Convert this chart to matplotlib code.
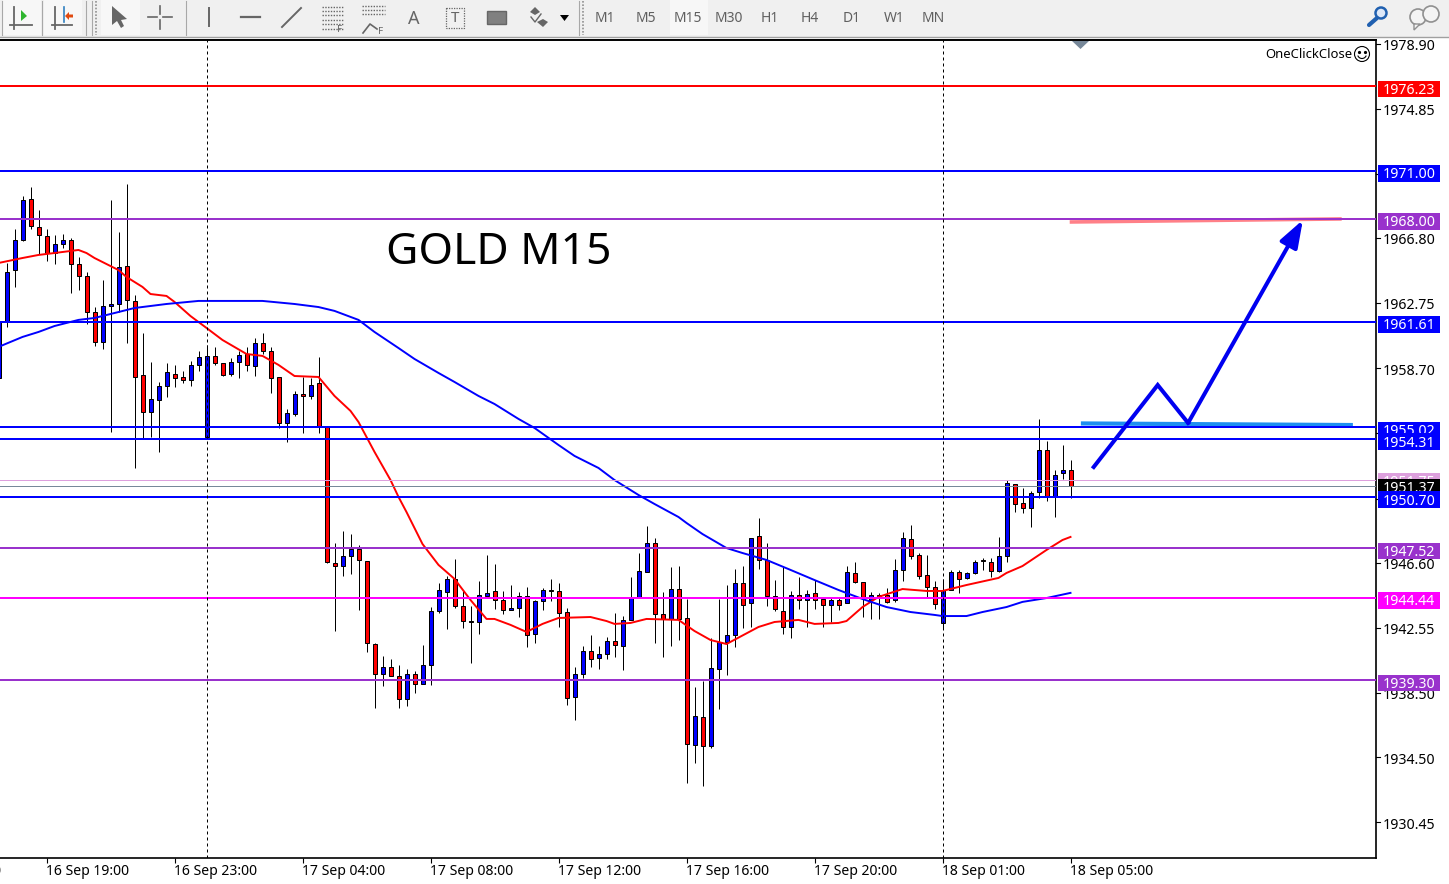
import matplotlib
matplotlib.use('Agg')
import matplotlib.pyplot as plt
from matplotlib.patches import Rectangle, Circle, Polygon, Arc

plt.rcParams['font.family'] = ['Noto Sans', 'DejaVu Sans']

# 15 minute bars, -1 is the one cut by the left edge
opens = [1958.10,1961.58,1964.81,1966.68,1969.23,1967.49,1966.93,1965.87,1966.43,1966.68,
         1965.19,1964.44,1962.20,1960.34,1962.58,1962.70,1965.06,1962.89,1958.29,1955.98,
         1956.73,1957.60,1958.35,1958.16,1957.97,1958.91,1954.43,1959.47,1959.03,1958.35,
         1959.09,1959.59,1958.85,1960.28,1959.78,1958.16,1955.30,1955.86,1957.10,1956.98,
         1957.79,1955.05,1946.59,1946.40,1947.03,1947.46,1946.72,1941.55,1939.69,1940.12,
         1939.56,1938.13,1939.69,1939.06,1940.25,1943.61,1944.79,1945.60,1943.92,1942.98,
         1942.92,1944.54,1944.85,1944.29,1943.67,1943.79,1944.54,1942.18,1944.23,1944.91,
         1944.85,1943.54,1938.26,1939.69,1941.12,1940.68,1940.93,1941.74,1941.43,1943.05,
         1944.48,1946.03,1947.84,1943.42,1943.11,1944.97,1943.17,1935.27,1937.01,1935.21,
         1939.99,1941.68,1942.11,1945.35,1944.10,1948.27,1946.78,1944.54,1943.61,1942.61,
         1944.60,1944.29,1944.73,1944.35,1943.98,1944.29,1944.10,1945.97,1945.41,1944.29,
         1944.60,1944.60,1944.29,1946.16,1948.08,1947.09,1945.84,1945.10,1942.86,1944.91,
         1946.03,1945.66,1945.97,1946.78,1946.65,1946.09,1947.03,1951.50,1950.32,1950.01,
         1951.01,1953.62,1950.76,1952.19,1952.38]
closes = [1961.58,1964.69,1966.68,1969.17,1967.55,1966.99,1965.87,1966.43,1966.68,1965.19,
          1964.44,1962.20,1960.34,1962.58,1962.70,1964.99,1962.95,1958.16,1955.98,1956.79,
          1957.60,1958.47,1958.10,1957.97,1958.91,1959.40,1959.47,1959.03,1958.29,1959.09,
          1959.53,1958.91,1960.28,1959.78,1958.10,1955.30,1955.92,1957.10,1956.98,1957.66,
          1955.05,1946.65,1946.40,1947.03,1947.46,1946.78,1941.62,1939.69,1940.12,1939.56,
          1938.13,1939.69,1939.06,1940.25,1943.61,1944.91,1945.60,1943.92,1942.98,1942.92,
          1944.60,1944.73,1944.29,1943.67,1943.79,1944.54,1942.11,1944.23,1944.91,1944.85,
          1943.48,1938.19,1939.69,1941.12,1940.62,1940.93,1941.74,1941.49,1943.05,1944.41,
          1946.09,1947.84,1943.42,1943.11,1944.97,1943.11,1935.33,1937.07,1935.21,1940.06,
          1941.68,1942.11,1945.35,1943.98,1948.15,1946.78,1944.54,1943.73,1942.61,1944.60,
          1944.29,1944.66,1944.29,1943.98,1944.29,1943.98,1946.03,1945.41,1944.41,1944.60,
          1944.54,1944.17,1946.16,1948.15,1947.03,1945.78,1945.10,1944.04,1944.91,1946.03,
          1945.60,1945.97,1946.65,1946.72,1946.09,1947.03,1951.57,1950.26,1950.01,1950.94,
          1953.62,1950.76,1952.06,1952.38,1951.37]
highs = [1961.83,1965.25,1967.37,1969.42,1969.98,1968.55,1967.37,1966.99,1967.05,1966.81,
         1965.62,1964.69,1962.51,1964.19,1969.17,1967.18,1970.16,1963.26,1960.90,1959.09,
         1957.85,1959.03,1958.91,1958.53,1959.16,1959.78,1960.15,1960.03,1959.03,1959.34,
         1959.78,1960.03,1960.59,1960.90,1960.03,1958.16,1956.17,1957.29,1958.16,1958.10,
         1959.40,1955.05,1947.84,1948.58,1948.40,1947.71,1946.72,1941.62,1940.81,1940.62,
         1940.25,1940.00,1939.87,1941.49,1943.86,1945.35,1945.78,1946.84,1944.85,1943.92,
         1945.47,1947.09,1946.53,1944.85,1945.22,1944.79,1945.10,1944.29,1945.04,1945.60,
         1945.35,1943.79,1940.12,1941.43,1942.11,1941.43,1941.99,1943.48,1943.29,1945.72,
         1947.21,1948.89,1948.15,1944.79,1946.34,1946.40,1944.35,1938.88,1939.25,1941.93,
         1944.35,1945.22,1946.22,1946.40,1948.15,1949.39,1947.84,1945.53,1946.34,1944.85,
         1945.72,1944.91,1945.53,1944.41,1944.41,1944.41,1946.40,1946.65,1945.41,1944.79,
         1944.73,1945.04,1946.84,1948.52,1948.96,1947.21,1947.09,1945.47,1945.60,1946.16,
         1946.16,1946.03,1946.78,1946.90,1946.90,1948.21,1951.75,1951.50,1951.25,1951.07,
         1955.55,1954.18,1952.38,1953.93,1952.99]
lows = [1957.91,1961.27,1963.76,1966.62,1967.37,1965.81,1965.37,1965.19,1966.18,1963.38,
        1963.57,1961.46,1960.09,1959.90,1954.74,1962.20,1960.28,1952.50,1954.37,1954.43,
        1953.50,1956.92,1957.54,1957.79,1957.60,1958.53,1954.37,1958.91,1958.22,1958.22,
        1958.10,1958.53,1958.22,1959.59,1957.17,1954.99,1954.12,1955.74,1954.68,1956.79,
        1954.68,1946.59,1942.36,1945.78,1945.91,1943.67,1941.06,1937.57,1938.94,1939.56,
        1937.57,1937.70,1938.50,1939.06,1939.00,1943.48,1942.49,1943.79,1942.55,1940.37,
        1942.18,1944.54,1943.73,1943.42,1943.67,1943.23,1941.37,1941.62,1943.67,1944.23,
        1942.61,1937.76,1936.83,1939.44,1940.12,1939.99,1940.62,1940.75,1939.94,1943.05,
        1944.48,1946.03,1941.62,1940.75,1941.43,1941.80,1932.91,1934.15,1932.72,1935.08,
        1937.51,1939.63,1941.37,1942.55,1942.61,1946.22,1943.92,1943.61,1942.18,1941.93,
        1943.73,1942.61,1943.73,1942.61,1942.92,1943.67,1944.10,1945.35,1943.23,1943.11,
        1943.11,1944.10,1944.17,1945.47,1946.84,1945.60,1944.41,1943.73,1942.55,1944.91,
        1944.73,1945.60,1945.91,1946.16,1945.72,1946.03,1946.65,1949.76,1949.70,1948.83,
        1950.64,1950.45,1949.45,1951.82,1950.64]

red_ma_bars = [-1,2,4,6,9,10,11,14,15,17,18,20,21,23,25,27,30,32,34,36,39,41,43,44,45,46,48,49,50,52,54,
               56,58,60,61,63,65,67,69,73,75,76,78,80,84,86,88,90,94,96,99,101,104,105,107,109,
               112,115,117,120,124,125,127,130,132,133]
red_ma = [1965.25,1965.56,1965.75,1965.87,1966.06,1965.87,1965.56,1964.81,1964.38,1963.76,1963.32,
          1963.20,1962.83,1961.95,1961.21,1960.46,1959.59,1959.47,1958.91,1958.22,1958.16,1956.98,
          1956.05,1955.36,1954.43,1953.50,1951.75,1950.70,1949.76,1947.77,1946.47,1945.60,1944.29,
          1943.11,1943.11,1942.74,
          1942.30,1942.80,1943.17,1943.23,1942.98,1942.80,1942.86,1943.11,1943.05,1942.36,1941.80,
          1941.55,1942.61,1942.92,1943.05,1942.80,1942.86,1942.98,1943.85,1944.48,1944.97,1944.85,
          1944.85,1945.22,1945.66,1945.97,1946.40,1947.40,1948.02,1948.21]
blue_ma_bars = [-1,2,4,6,9,11,14,16,20,24,32,36,39,41,44,46,49,51,54,56,59,61,64,66,69,71,74,76,79,81,84,
                85,87,90,92,95,98,101,104,107,110,113,116,117,120,122,125,127,130,133]
blue_ma = [1960.03,1960.65,1960.96,1961.33,1961.71,1961.83,1962.20,1962.45,1962.70,1962.89,1962.89,
           1962.70,1962.51,1962.27,1961.71,1960.96,1959.96,1959.28,1958.41,1957.85,1956.98,1956.48,
           1955.55,1954.99,1953.93,1953.25,1952.50,1951.75,1950.82,1950.26,1949.45,
           1949.08,1948.39,1947.52,1947.21,1946.78,1946.16,1945.53,1944.91,
           1944.35,1943.85,1943.54,1943.36,1943.29,1943.29,1943.54,1943.85,1944.17,1944.41,1944.73]

# horizontal levels and their colours
level_prices = [1976.23, 1971.00, 1968.00, 1961.61, 1955.02, 1954.31, 1950.70, 1947.52, 1944.44, 1939.30]
level_colors = ['#ff0000', '#0000ff', '#9932cc', '#0000ff', '#0000ff', '#0000ff', '#0000ff',
                '#9932cc', '#ff00ff', '#9932cc']
ask_price = 1951.75
bid_price = 1951.37

scale_ticks = [1978.90, 1974.85, 1970.80, 1966.80, 1962.75, 1958.70, 1954.65, 1950.60,
               1946.60, 1942.55, 1938.50, 1934.50, 1930.45]
time_bars = [-11, 5, 21, 37, 53, 69, 85, 101, 117, 133]
time_labels = ['16 Sep 15:00', '16 Sep 19:00', '16 Sep 23:00', '17 Sep 04:00', '17 Sep 08:00',
               '17 Sep 12:00', '17 Sep 16:00', '17 Sep 20:00', '18 Sep 01:00', '18 Sep 05:00']
separator_bars = [25, 117]

# hand drawn scenario
target_x = [132.9, 166.9]
target_y = [1967.80, 1967.99]
support_x = [134.3, 168.3]
support_y = [1955.27, 1955.17]
path_x = [135.9, 143.9, 147.7, 162.05]
path_y = [1952.56, 1957.66, 1955.30, 1967.93]

W, H = 1449, 884
CHART_R, CHART_T, CHART_B = 1376, 40, 858
bars = list(range(-1, 134))

fig = plt.figure(figsize=(W / 100, H / 100), dpi=100, facecolor='white')

# whole figure in pixels, for the terminal toolbar
bg = fig.add_axes([0, 0, 1, 1])
bg.set_xlim(0, W)
bg.set_ylim(H, 0)
bg.axis('off')

bg.add_patch(Rectangle((0, 0), W, 36.5, color='#f0f0f0', lw=0))
bg.plot([0, W], [37, 37], color='#a0a0a0', lw=1)
for x0, x1 in [(3, 41), (44, 82), (101, 140), (670, 708)]:
    bg.add_patch(Rectangle((x0, 0), x1 - x0, 35, color='#f7f7f7', lw=0))
for x in [2, 42, 86, 92, 186, 579]:
    bg.plot([x, x], [1, 35], color='#a8a8a8', lw=0.8)
for x in [96, 583]:
    bg.plot([x, x], [1, 35], color='#909090', lw=1.2, ls=(0, (1, 1)))

icon = '#666666'
# chart shift icons
for x0, x1, xv in [(10, 32, 14), (52, 72, 55)]:
    bg.plot([x0, x1], [25, 25], color=icon, lw=1.3)
    bg.plot([xv, xv], [7, 29], color=icon, lw=1.3)
bg.add_patch(Polygon([[21, 10], [21, 21], [27, 16]], color='#2fb52f', lw=0))
bg.add_patch(Polygon([[73, 14.5], [73, 17.5], [69, 17.5], [69, 20], [65, 16], [69, 12], [69, 14.5]],
                     color='#e04a10', lw=0))
bg.plot([64, 64], [7, 22], color='#3080c0', lw=1.2)
# cursor, cross, lines
bg.add_patch(Polygon([[112, 6], [112, 25], [117, 21], [121, 28], [124, 26], [121, 20], [127, 19]],
                     color=icon, lw=0))
bg.plot([148, 157], [17, 17], color=icon, lw=1.2)
bg.plot([163, 172], [17, 17], color=icon, lw=1.2)
bg.plot([160, 160], [6, 14], color=icon, lw=1.2)
bg.plot([160, 160], [20, 29], color=icon, lw=1.2)
bg.plot([209, 209], [8, 26], color=icon, lw=1.4)
bg.plot([241, 260], [17, 17], color=icon, lw=1.6)
bg.plot([282, 301], [27, 8], color=icon, lw=1.4)
for y in [7, 11, 15, 20, 24, 29]:
    bg.plot([322, 343], [y, y], color=icon, lw=1, ls=(0, (1, 1)))
    bg.plot([362, 385], [y - 1, y - 1], color=icon, lw=1, ls=(0, (1, 1))) if y < 20 else None
bg.text(340, 30, 'F', fontsize=7, color=icon, fontweight='bold', ha='center', va='center')
bg.text(381, 31, 'F', fontsize=7, color=icon, fontweight='bold', ha='center', va='center')
bg.plot([363, 370, 377], [33, 24, 29], color=icon, lw=1.2)
bg.text(414, 19, 'A', fontsize=13, color=icon, fontweight='bold', ha='center', va='center')
bg.add_patch(Rectangle((446, 8), 18, 20, fill=False, ec=icon, lw=0.9, ls=(0, (1, 1))))
bg.text(455, 19, 'T', fontsize=11, color=icon, fontweight='bold', ha='center', va='center')
bg.add_patch(Rectangle((487, 11), 19, 13, fc='#808080', ec='#666666', lw=1))
bg.add_patch(Polygon([[530, 12], [535, 7], [540, 12], [535, 15]], color=icon, lw=0))
bg.add_patch(Polygon([[537, 22], [543, 19], [548, 22], [543, 27]], color=icon, lw=0))
bg.plot([531, 535, 541], [17, 22, 14], color=icon, lw=1)
bg.add_patch(Polygon([[560, 15], [569, 15], [564.5, 21]], color='black', lw=0))

period_names = ['M1', 'M5', 'M15', 'M30', 'H1', 'H4', 'D1', 'W1', 'MN']
period_pos = [605, 646, 688, 729, 770, 810, 852, 894, 933]
for name, x in zip(period_names, period_pos):
    bg.text(x, 18.5, name, fontsize=10, color='#606060', ha='center', va='center')

# magnifier and chat bubbles
bg.add_patch(Circle((1381, 13), 5.5, fc='#dde8f8', ec='#2060b0', lw=1.8))
bg.plot([1377, 1369], [18, 25], color='#2060b0', lw=3, solid_capstyle='round')
bg.add_patch(Circle((1418, 17), 8, fc='#f4f4f4', ec='#909090', lw=1.2))
bg.add_patch(Circle((1431, 14), 8, fc='#f4f4f4', ec='#909090', lw=1.2))
bg.add_patch(Polygon([[1414, 24], [1420, 24], [1414, 30]], fc='#f4f4f4', ec='#909090', lw=1))

# main chart, one bar is 8 pixels wide
ax = fig.add_axes([0, 1 - CHART_B / H, CHART_R / W, (CHART_B - CHART_T) / H])
ax.set_xlim(-6.5 / 8, (CHART_R - 6.5) / 8)
ymin, ymax = 1928.24, 1979.12
ax.set_ylim(ymin, ymax)
px = (ymax - ymin) / (CHART_B - CHART_T)
ax.set_xticks(time_bars[1:])
ax.set_xticklabels([])
ax.set_yticks([])
ax.tick_params(axis='x', length=3.5, width=0.8, color='black')
for name in ['top', 'left']:
    ax.spines[name].set_visible(False)
ax.spines['right'].set_linewidth(1.2)
ax.spines['bottom'].set_linewidth(1.2)
ax.plot([0, 1], [1, 1], transform=ax.transAxes, color='black', lw=1.4, clip_on=False, zorder=8)

ax.vlines(bars, lows, highs, color='black', lw=0.72, zorder=2)
body_colors = ['#0000ff' if c >= o else '#ff0000' for o, c in zip(opens, closes)]
bottoms = [min(o, c) for o, c in zip(opens, closes)]
heights = [abs(o - c) for o, c in zip(opens, closes)]
ax.bar(bars, heights, bottom=bottoms, width=0.5, color=body_colors, edgecolor='black', lw=0.72, zorder=3)

ax.plot(red_ma_bars, red_ma, color='#ff0000', lw=1.4, zorder=4)
ax.plot(blue_ma_bars, blue_ma, color='#0000ff', lw=1.4, zorder=4)

ax.plot(target_x, target_y, color='#ff8088', lw=2.6, zorder=5, solid_capstyle='butt')
ax.plot(support_x, support_y, color='#1e8ff0', lw=3, zorder=5, solid_capstyle='butt')
for price, color in zip(level_prices, level_colors):
    ax.axhline(price, color=color, lw=1.44, zorder=6)
ax.axhline(ask_price, color='#dda0dd', lw=0.72, zorder=6)
ax.axhline(bid_price, color='#778899', lw=0.72, zorder=6)
for b in separator_bars:
    ax.axvline(b, color='black', lw=0.72, ls=(0, (3, 3)), zorder=6)

ax.plot(path_x[:-1], path_y[:-1], color='#0000f0', lw=2.9, zorder=7, solid_joinstyle='miter')
ax.annotate('', xy=(path_x[-1], path_y[-1]), xytext=(path_x[-2], path_y[-2]), zorder=7,
            arrowprops=dict(arrowstyle='-|>,head_width=0.58,head_length=1.65', color='#0000f0',
                            lw=2.9, shrinkA=0, shrinkB=0))

ax.text(492.5 / 8, 1981.61 - 0.0622 * 253, 'GOLD M15', fontsize=32, color='black',
        ha='center', va='center', zorder=7)

for b, label in zip(time_bars, time_labels):
    ax.text(b - 0.125, ymin - 13.5 * px, label, fontsize=10.1, color='black', ha='left', va='center',
            clip_on=False)

# price scale on the right, same y range as the chart
sc = fig.add_axes([CHART_R / W, 1 - CHART_B / H, 1 - CHART_R / W, (CHART_B - CHART_T) / H])
sc.set_xlim(CHART_R, W)
sc.set_ylim(ymin, ymax)
sc.axis('off')
for price in scale_ticks:
    sc.plot([CHART_R, CHART_R + 4], [price, price], color='black', lw=0.8, clip_on=False, zorder=1)
    sc.text(1383, price - 2.8 * px, '%.2f' % price, fontsize=10.2, color='black', ha='left', va='center',
            zorder=1)


def price_box(price, color, z, shift=0):
    # the terminal nudges close labels up a little, shift is in pixels
    sc.add_patch(Rectangle((1378, price - (11 - shift) * px), 62, 16.5 * px, color=color, lw=0, zorder=z))
    sc.text(1383, price - (4.2 - shift) * px, '%.2f' % price, fontsize=10.2, color='white',
            ha='left', va='center', zorder=z + 0.5)


z = 2
for price, color in zip(level_prices, level_colors):
    if price != 1950.70:
        price_box(price, color, z)
        z += 1
price_box(ask_price, '#dda0dd', z, 2)
price_box(bid_price, 'black', z + 1, 2)
price_box(1950.70, '#0000ff', z + 2)

# overlays at the top right of the chart
bg.set_zorder(5)
bg.patch.set_visible(False)
bg.add_patch(Polygon([[1072, 41], [1089, 41], [1080.5, 49]], color='#778899', lw=0))
bg.text(1265, 54.5, 'OneClickClose', fontsize=9.4, color='black', ha='left', va='center')
bg.add_patch(Circle((1362, 54), 7.5, fill=False, ec='black', lw=0.8))
bg.plot([1359, 1365], [51.5, 51.5], color='black', lw=0, marker='o', ms=1.3)
bg.add_patch(Arc((1362, 54), 9, 9, theta1=20, theta2=160, color='black', lw=0.8))

plt.savefig('out.png', dpi=100)
